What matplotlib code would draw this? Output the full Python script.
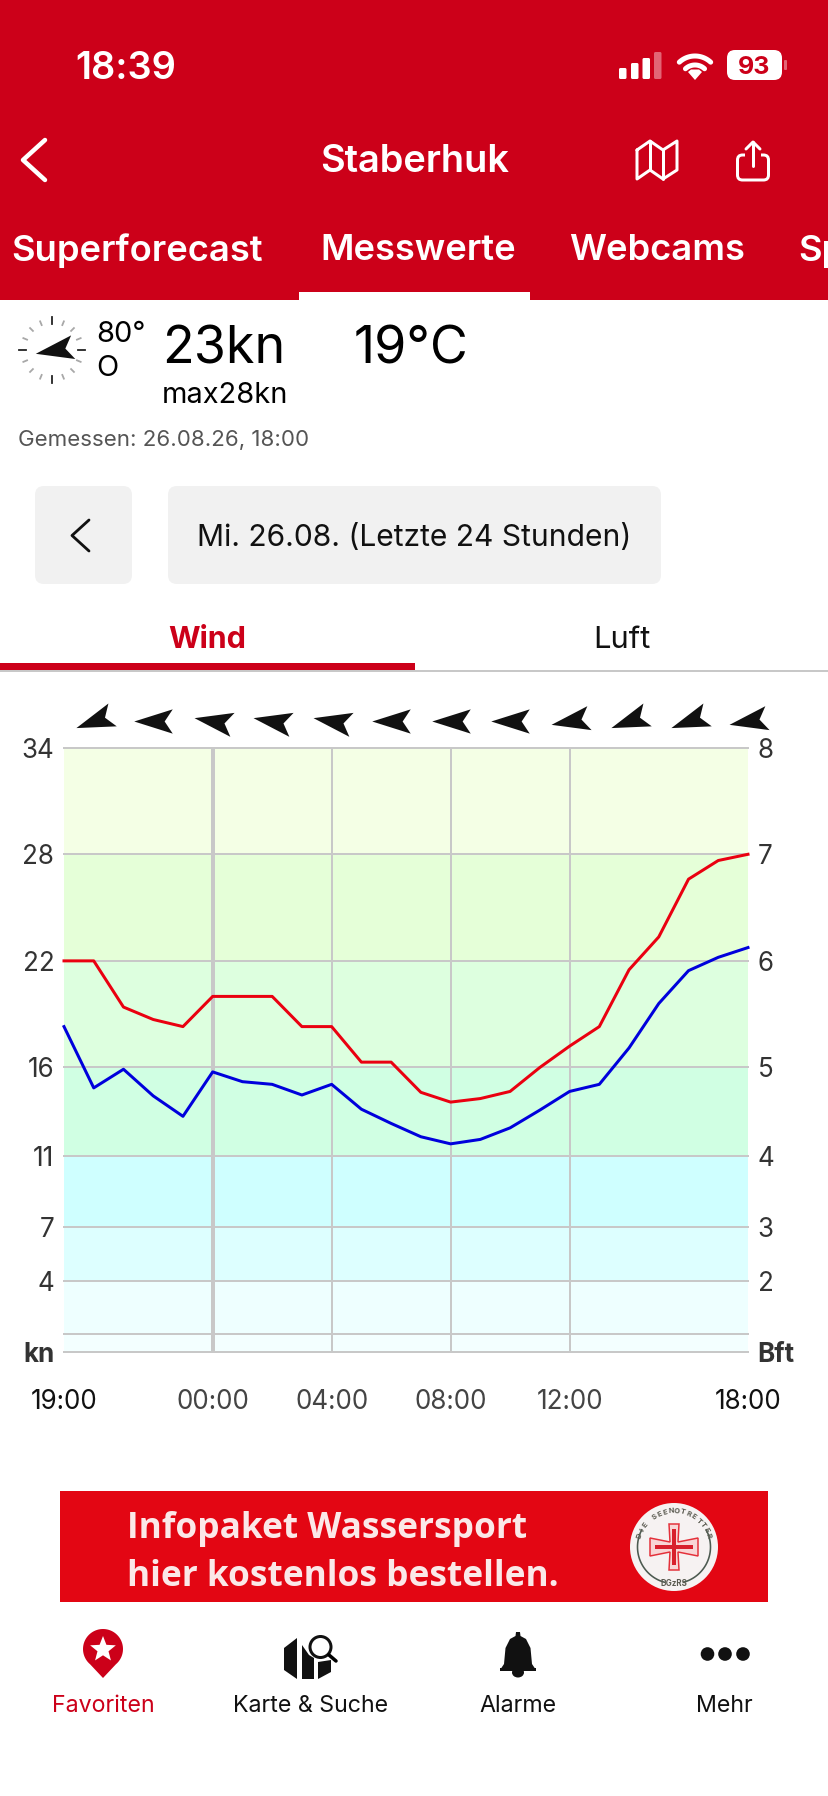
import numpy as np
import matplotlib
matplotlib.use("Agg")
import matplotlib.pyplot as plt
from matplotlib.markers import MarkerStyle
from matplotlib.patches import Circle, Ellipse, FancyBboxPatch, Polygon, Rectangle
from matplotlib.path import Path
from matplotlib.transforms import Affine2D, blended_transform_factory

plt.rcParams['font.family'] = ['Inter', 'DejaVu Sans']

# hours since 19:00
hours = list(range(24))
gust_kn = [22.0, 22.0, 19.4, 18.7, 18.3, 20.0, 20.0, 20.0, 18.3, 18.3, 16.3, 16.3,
           14.6, 14.05, 14.25, 14.65, 16.0, 17.2, 18.3, 21.5, 23.35, 26.6, 27.65, 28.0]
mean_kn = [18.3, 14.85, 15.9, 14.4, 13.25, 15.75, 15.2, 15.05, 14.45, 15.05, 13.65, 12.85,
           12.1, 11.7, 11.95, 12.6, 13.6, 14.65, 15.05, 17.1, 19.6, 21.45, 22.2, 22.75]
dir_hours = [1, 3, 5, 7, 9, 11, 13, 15, 17, 19, 21, 23]
dir_deg = [70, 90, 100, 100, 100, 90, 90, 90, 80, 70, 70, 80]

kn_ticks = [0, 4, 7, 11, 16, 22, 28, 34]
kn_labels = ['kn', '4', '7', '11', '16', '22', '28', '34']
bft_labels = ['Bft', '2', '3', '4', '5', '6', '7', '8']
band_edges = [0, 1, 4, 7, 11, 16, 22, 28, 34]
band_colors = ['#F3FFFF', '#EEFFFF', '#DDFFFF', '#CFFFFF', '#D0FFE3', '#DDFFDF', '#E5FFD8', '#F4FFE5']
time_hours = [0, 5, 9, 13, 17, 23]
time_labels = ['19:00', '00:00', '04:00', '08:00', '12:00', '18:00']

RED = '#CC0019'
W, H = 829, 1796
PX = 0.72  # pixels to points at dpi 100

fig = plt.figure(figsize=(W / 100, H / 100), dpi=100, facecolor='white')
ui = fig.add_axes([0, 0, 1, 1], zorder=0)
ui.set_xlim(0, W)
ui.set_ylim(H, 0)
ui.axis('off')


def label(x, y, s, px, color='black', ha='left', weight='normal', **kw):
    ui.text(x, y, s, fontsize=px * PX, color=color, ha=ha, va='baseline', fontweight=weight, **kw)


def stroke(xs, ys, px, color='black', **kw):
    ui.plot(xs, ys, color=color, lw=px * PX, solid_capstyle='round', solid_joinstyle='round', **kw)


def box(x0, y0, x1, y1, color, r=0):
    if r:
        ui.add_patch(FancyBboxPatch((x0, y0), x1 - x0, y1 - y0, boxstyle=f'round,pad=0,rounding_size={r}',
                                    fc=color, ec='none'))
    else:
        ui.add_patch(Rectangle((x0, y0), x1 - x0, y1 - y0, fc=color, ec='none'))


def dart(direction):
    # points left at 90 deg, so the wind direction turns it from there
    p = Path([(-19, 0), (19, 12), (11, 0), (19, -12), (-19, 0)],
             [Path.MOVETO, Path.LINETO, Path.LINETO, Path.LINETO, Path.CLOSEPOLY])
    return MarkerStyle(p, transform=Affine2D().rotate_deg(90 - direction))


# header
box(0, 0, W, 300, RED)
box(299, 292, 530, 301, 'white')
label(75, 79, '18:39', 38, 'white', weight='semibold')
for bx, top, alpha in [(619, 68, 1), (631, 63, 1), (642.5, 58, 1), (654, 52, 0.3)]:
    box(bx, top, bx + 7.5, 79, 'white' if alpha == 1 else '#E26575', r=1.5)
for r in [14, 23]:
    th = np.radians(np.linspace(-43, 43, 30))
    ui.plot(695 + r * np.sin(th), 79 - r * np.cos(th), color='white', lw=5 * PX, solid_capstyle='round')
ui.add_patch(Polygon([(695, 80), (688, 72), (691, 69.5), (699, 69.5), (702, 72)], fc='white', ec='none'))
box(727, 50, 782, 80, 'white', r=8)
box(784, 60, 787, 70, '#E26575', r=1)
label(754.5, 74, '93', 25, RED, ha='center', weight='bold')

stroke([45, 23, 45], [140, 160, 180], 4.5, 'white')
label(415, 172.5, 'Staberhuk', 38, 'white', ha='center', weight='semibold')
map_x = [637, 650, 663, 677, 677, 663, 650, 637, 637]
map_y = [150, 141, 150, 141, 170, 179, 170, 179, 150]
stroke(map_x, map_y, 3, 'white')
stroke([650, 650], [141, 170], 3, 'white')
stroke([663, 663], [150, 179], 3, 'white')
ui.add_patch(FancyBboxPatch((737.5, 155), 31, 25, boxstyle='round,pad=0,rounding_size=5', fc='none', ec='white', lw=3 * PX))
box(745, 152, 761, 158, RED)
stroke([753, 753], [142, 166], 3, 'white')
stroke([746, 753, 760], [149, 142, 149], 3, 'white')

for x, s in [(11, 'Superforecast'), (320, 'Messwerte'), (569, 'Webcams'), (798, 'Sp')]:
    label(x, 260.5, s, 36.3, 'white', weight='semibold')

# current reading
cx, cy = 52, 350
for i in range(16):
    a = np.radians(i * 22.5)
    main = i % 4 == 0
    r0, r1 = (26, 33) if main else (27, 31)
    ui.plot([cx + r0 * np.sin(a), cx + r1 * np.sin(a)], [cy - r0 * np.cos(a), cy - r1 * np.cos(a)],
            color='#222222' if main else '#A8A8A8', lw=1.8 * PX)
ui.plot([cx + 2], [cy], marker=dart(80), markersize=38 * PX, color='#111111', mew=0)
label(96, 341.5, '80°', 29)
label(96, 376, 'O', 29)
label(162, 364, '23kn', 52)
label(354, 364, '19°C', 52)
label(162, 403, 'max28kn', 29)
label(18, 446, 'Gemessen: 26.08.26, 18:00', 22.3, '#555555')

box(35, 486, 132, 584, '#F1F1F1', r=9)
box(168, 486, 661, 584, '#F1F1F1', r=9)
stroke([89, 72, 89], [520, 535.5, 551], 2.8, '#111111')
label(414.5, 546, 'Mi. 26.08. (Letzte 24 Stunden)', 30, '#111111', ha='center')

label(207, 648, 'Wind', 30.5, RED, ha='center', weight='bold')
label(622, 648, 'Luft', 31, '#111111', ha='center')
box(0, 670, W, 672, '#C8C8C8')
box(0, 663, 415, 670, RED)

# the chart itself
ax = fig.add_axes([64 / W, 1 - 1351.7 / H, 684 / W, 604 / H], zorder=1)
ax.set_xlim(hours[0], hours[-1])
ax.set_ylim(0, 34)
for lo, hi, c in zip(band_edges[:-1], band_edges[1:], band_colors):
    ax.axhspan(lo, hi, color=c, lw=0, zorder=0)
for y in band_edges:
    ax.axhline(y, color='#C8C8C8', lw=2 * PX, zorder=1, clip_on=False)
for h in time_hours[1:-1]:
    ax.axvline(h, color='#C8C8C8', lw=(4 if h == 5 else 2) * PX, zorder=1)
ax.plot(hours, gust_kn, color='#EA0010', lw=3 * PX, zorder=3, clip_on=False, solid_joinstyle='round')
ax.plot(hours, mean_kn, color='#0000DC', lw=3 * PX, zorder=3, clip_on=False, solid_joinstyle='round')

arrow_tf = blended_transform_factory(ax.transData, ax.transAxes)
for h, d in zip(dir_hours, dir_deg):
    ax.plot([h], [1.0437], marker=dart(d), markersize=38.5 * PX, color='#111111', mew=0,
            transform=arrow_tf, clip_on=False)

for s in ax.spines.values():
    s.set_visible(False)
ax.set_yticks(kn_ticks, kn_labels, fontsize=26 * PX, color='#333333')
ax.tick_params(axis='y', length=0, pad=7)
ax.set_xticks(time_hours, time_labels, fontsize=26 * PX, color='#444444')
ax.tick_params(axis='x', length=0, pad=37 * PX)
ax.get_yticklabels()[0].set_fontweight('bold')
ax.get_xticklabels()[0].set_color('#111111')
ax.get_xticklabels()[-1].set_color('#111111')

bft = ax.twinx()
bft.set_ylim(0, 34)
for s in bft.spines.values():
    s.set_visible(False)
bft.set_yticks(kn_ticks, bft_labels, fontsize=26 * PX, color='#333333')
bft.tick_params(axis='y', length=0, pad=7)
bft.get_yticklabels()[0].set_fontweight('bold')

# banner
box(60, 1491, 768, 1602, '#E30613')
label(127, 1538, 'Infopaket Wassersport', 35.3, '#FBE8E8', weight='bold', family='Open Sans')
label(127, 1586, 'hier kostenlos bestellen.', 35.3, '#FBE8E8', weight='bold', family='Open Sans')
lx, ly = 674, 1547
ui.add_patch(Circle((lx, ly), 44, fc='#F6F2F2', ec='none'))
for start, end in [(62, 165), (195, 298)]:
    th = np.radians(np.linspace(start, end, 40))
    ui.plot(lx + 36.5 * np.sin(th), ly - 36.5 * np.cos(th), color='#4C5A50', lw=1.6 * PX)
top_text = 'DIE SEENOTRETTER'
for i, ch in enumerate(top_text):
    a = np.radians(-72 + 144 * i / (len(top_text) - 1))
    ui.text(lx + 36 * np.sin(a), ly - 36 * np.cos(a), ch, fontsize=7.5 * PX, color='#5A5A50', fontweight='bold',
            ha='center', va='center', rotation=-np.degrees(a))
ui.text(lx, ly + 37, 'DGzRS', fontsize=8 * PX, color='#5A5A50', ha='center', va='center', fontweight='bold')
cross = [(-5, -23), (5, -23), (4, -5), (24, -9), (24, 9), (4, 5), (5, 23), (-5, 23), (-4, 5), (-24, 9), (-24, -9), (-4, -5)]
ui.add_patch(Polygon([(lx + a, ly + b) for a, b in cross], fc='#F8D6D6', ec='#E4303A', lw=1.5 * PX))
box(lx - 1.8, ly - 18, lx + 1.8, ly + 18, '#D8202C')
box(lx - 19, ly - 1.8, lx + 19, ly + 1.8, '#D8202C')

# bottom navigation
th = np.radians(np.linspace(-50, 230, 60))
pin = [(103 + 20 * np.cos(t), 1649 - 20 * np.sin(t)) for t in th] + [(103, 1678)]
ui.add_patch(Polygon(pin, fc=RED, ec='none'))
star = []
for i in range(10):
    r = 13.5 if i % 2 == 0 else 5.8
    a = np.radians(i * 36)
    star.append((103 + r * np.sin(a), 1649.5 - r * np.cos(a)))
ui.add_patch(Polygon(star, fc='white', ec='none'))

ui.add_patch(Polygon([(284, 1648), (297, 1638), (297, 1679), (284, 1670)], fc='#111111', ec='none'))
ui.add_patch(Polygon([(302, 1645), (309, 1655), (314, 1658), (314, 1679), (302, 1679)], fc='#111111', ec='none'))
ui.add_patch(Polygon([(318, 1662), (331, 1660), (331, 1672), (318, 1679)], fc='#111111', ec='none'))
ui.add_patch(Circle((320.5, 1647), 10.5, fc='white', ec='#111111', lw=3 * PX))
stroke([329, 336], [1655, 1661], 3.5)

bell = [(500, 1670), (504, 1664), (505.5, 1648), (510, 1639), (515.5, 1636), (516, 1632), (520, 1632),
        (520.5, 1636), (526, 1639), (530.5, 1648), (532, 1664), (536, 1670)]
ui.add_patch(Polygon(bell, fc='#111111', ec='none'))
ui.add_patch(Ellipse((518, 1672.5), 12, 10, fc='#111111', ec='none'))
box(500, 1668, 536, 1671, '#111111')
for dx in [707.5, 725, 743]:
    ui.add_patch(Circle((dx, 1654), 6.8, fc='#111111', ec='none'))

label(103, 1711.5, 'Favoriten', 23.2, RED, ha='center')
label(311, 1711.5, 'Karte & Suche', 23.2, '#111111', ha='center')
label(518, 1711.5, 'Alarme', 23.2, '#111111', ha='center')
label(724.5, 1711.5, 'Mehr', 23.2, '#111111', ha='center')

fig.savefig('out.png', dpi=100, facecolor='white')
